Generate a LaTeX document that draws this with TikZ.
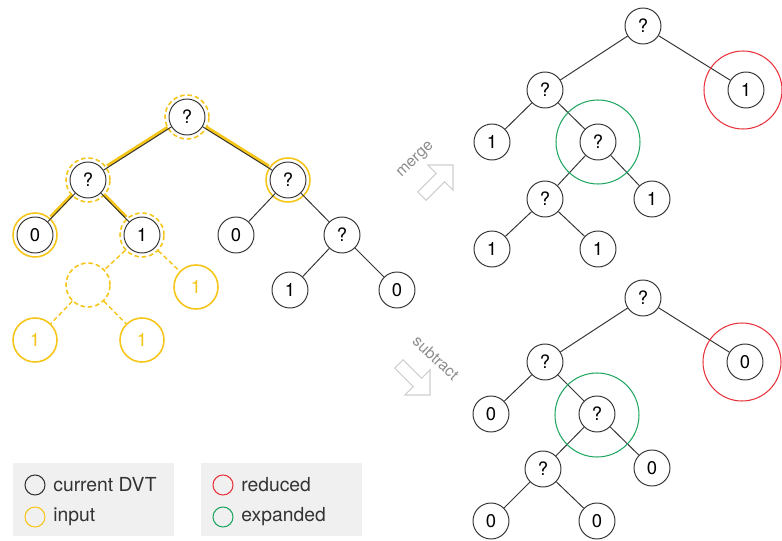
\documentclass[tikz,border=0pt]{standalone}
\usepackage{fontspec}
\setmainfont{TeX Gyre Heros}

\definecolor{dvtline}{HTML}{333333}
\definecolor{inputyel}{HTML}{F5C518}
\definecolor{reducedred}{HTML}{E8323C}
\definecolor{expandgreen}{HTML}{1FA660}
\definecolor{legendbg}{HTML}{F0F0F0}
\definecolor{opgray}{HTML}{CFCFCF}
\definecolor{optext}{HTML}{8C8C8C}

\tikzset{
  dvt/.style={circle,draw=dvtline,line width=0.55pt,minimum size=0.72cm,inner sep=0pt,
    font=\fontsize{10.5}{12}\selectfont},
  inring/.style={circle,draw=inputyel,line width=0.9pt,minimum size=0.88cm,inner sep=0pt,
    text=inputyel,font=\fontsize{10.5}{12}\selectfont},
  indash/.style={inring,dash pattern=on 2.6pt off 1.6pt},
  treeedge/.style={draw=dvtline,line width=0.55pt},
  hiedge/.style={draw=inputyel,line width=2pt,transform canvas={yshift=1pt}},
  inedge/.style={draw=inputyel,line width=0.8pt,dash pattern=on 2.6pt off 1.6pt},
  reduced/.style={circle,draw=reducedred,line width=0.6pt,minimum size=1.56cm,inner sep=0pt},
  expanded/.style={circle,draw=expandgreen,line width=0.6pt,minimum size=1.68cm,inner sep=0pt},
  keymark/.style={circle,line width=0.6pt,minimum size=0.4cm,inner sep=0pt},
  keytext/.style={anchor=west,inner sep=0pt,font=\fontsize{11}{13}\selectfont,text=dvtline},
  oplabel/.style={text=optext,font=\fontsize{9}{11}\selectfont,inner sep=0pt},
  oparrow/.style={draw=opgray,line width=0.6pt,line join=miter,fill=white}
}

\begin{document}
\begin{tikzpicture}[x=0.02cm,y=-0.02cm]
  \useasboundingbox (0,0) rectangle (782,541);

  % current DVT
  \node[dvt] (a)    at (187,117) {?};
  \node[dvt] (al)   at (88,180)  {?};
  \node[dvt] (ar)   at (288,180) {?};
  \node[dvt] (all)  at (35,235)  {0};
  \node[dvt] (alr)  at (142,235) {1};
  \node[dvt] (arl)  at (236,235) {0};
  \node[dvt] (arr)  at (342,235) {?};
  \node[dvt] (arrl) at (290,290) {1};
  \node[dvt] (arrr) at (397,290) {0};

  % input tree laid over it
  \node[indash] (ia)   at (a)   {};
  \node[indash] (ial)  at (al)  {};
  \node[inring] (iar)  at (ar)  {};
  \node[inring] (iall) at (all) {};
  \node[indash] (ialr) at (alr) {};
  \node[indash] (ix)   at (88,285)  {};
  \node[inring] (iy)   at (196,287) {1};
  \node[inring] (ixl)  at (35,340)  {1};
  \node[inring] (ixr)  at (142,340) {1};

  \draw[hiedge] (ia) -- (ial);
  \draw[hiedge] (ia) -- (iar);
  \draw[hiedge] (ial) -- (iall);
  \draw[hiedge] (ial) -- (ialr);
  \draw[inedge] (ialr) -- (ix);
  \draw[inedge] (ialr) -- (iy);
  \draw[inedge] (ix) -- (ixl);
  \draw[inedge] (ix) -- (ixr);

  \draw[treeedge] (a) -- (al);
  \draw[treeedge] (a) -- (ar);
  \draw[treeedge] (al) -- (all);
  \draw[treeedge] (al) -- (alr);
  \draw[treeedge] (ar) -- (arl);
  \draw[treeedge] (ar) -- (arr);
  \draw[treeedge] (arr) -- (arrl);
  \draw[treeedge] (arr) -- (arrr);

  % merge result
  \node[dvt] (m)     at (643,26)  {?};
  \node[dvt] (ml)    at (545,90)  {?};
  \node[dvt] (mr)    at (746,90)  {1};
  \node[dvt] (mll)   at (492,142) {1};
  \node[dvt] (mlr)   at (598,142) {?};
  \node[dvt] (mlrl)  at (545,199) {?};
  \node[dvt] (mlrr)  at (652,199) {1};
  \node[dvt] (mlrll) at (492,249) {1};
  \node[dvt] (mlrlr) at (598,249) {1};
  \draw[treeedge] (m) -- (ml);
  \draw[treeedge] (m) -- (mr);
  \draw[treeedge] (ml) -- (mll);
  \draw[treeedge] (ml) -- (mlr);
  \draw[treeedge] (mlr) -- (mlrl);
  \draw[treeedge] (mlr) -- (mlrr);
  \draw[treeedge] (mlrl) -- (mlrll);
  \draw[treeedge] (mlrl) -- (mlrlr);
  \node[reduced]  (mred)   at (743,90)  {};
  \node[expanded] (mgreen) at (598,142) {};

  % subtract result
  \node[dvt] (s)     at (643,298) {?};
  \node[dvt] (sl)    at (545,362) {?};
  \node[dvt] (sr)    at (745,362) {0};
  \node[dvt] (sll)   at (491,414) {0};
  \node[dvt] (slr)   at (597,414) {?};
  \node[dvt] (slrl)  at (543,469) {?};
  \node[dvt] (slrr)  at (652,468) {0};
  \node[dvt] (slrll) at (491,521) {0};
  \node[dvt] (slrlr) at (597,521) {0};
  \draw[treeedge] (s) -- (sl);
  \draw[treeedge] (s) -- (sr);
  \draw[treeedge] (sl) -- (sll);
  \draw[treeedge] (sl) -- (slr);
  \draw[treeedge] (slr) -- (slrl);
  \draw[treeedge] (slr) -- (slrr);
  \draw[treeedge] (slrl) -- (slrll);
  \draw[treeedge] (slrl) -- (slrlr);
  \node[reduced]  (sred)   at (742,362) {};
  \node[expanded] (sgreen) at (597,415) {};

  % operation arrows
  \begin{scope}[shift={(453,165)},rotate=45]
    \draw[oparrow] (0,0) -- (-17.7,17.7) -- (-17.7,6) -- (-44,6)
      -- (-44,-6) -- (-17.7,-6) -- (-17.7,-17.7) -- cycle;
  \end{scope}
  \node[oplabel,rotate=44] (mergelabel) at (416,160) {merge};
  \begin{scope}[shift={(430,395)},rotate=-45]
    \draw[oparrow] (0,0) -- (-17.7,17.7) -- (-17.7,6) -- (-44,6)
      -- (-44,-6) -- (-17.7,-6) -- (-17.7,-17.7) -- cycle;
  \end{scope}
  \node[oplabel,rotate=-43] (sublabel) at (436,358) {subtract};

  % legend
  \fill[legendbg] (13,463) rectangle (174,536);
  \fill[legendbg] (201,463) rectangle (362,536);
  \node[keymark,draw=dvtline]     (kdvt)   at (35,485)  {};
  \node[keymark,draw=inputyel]    (kin)    at (35,517)  {};
  \node[keymark,draw=reducedred]  (kred)   at (223,485) {};
  \node[keymark,draw=expandgreen] (kgreen) at (223,517) {};
  \node[keytext] at (53,485)  {current DVT};
  \node[keytext] at (53,517)  {input};
  \node[keytext] at (241,485) {reduced};
  \node[keytext] at (241,517) {expanded};
\end{tikzpicture}
\end{document}
